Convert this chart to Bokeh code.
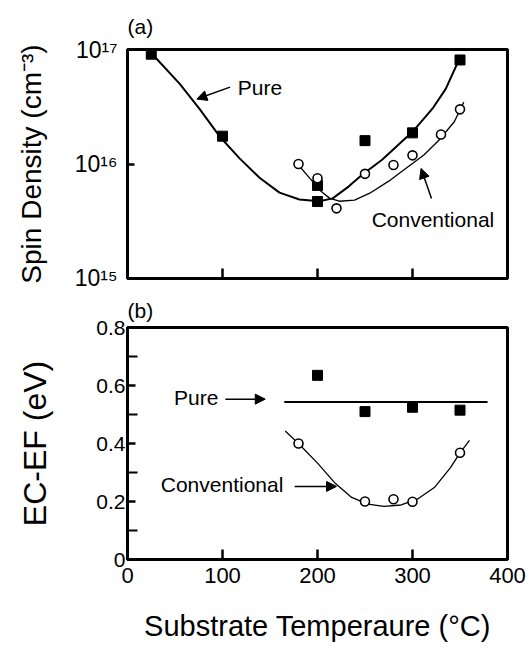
from bokeh.plotting import figure
from bokeh.layouts import column
from bokeh.models import Range1d, FixedTicker, Arrow, NormalHead, Label
from bokeh.embed import file_html
from bokeh.resources import INLINE

FONT = "Liberation Sans"

# ---------------- panel (a): spin density ----------------
pure_a_t = [25, 100, 200, 200, 250, 300, 350]
pure_a_n = [9.1e16, 1.75e16, 4.7e15, 6.5e15, 1.6e16, 1.87e16, 8.1e16]
conv_a_t = [180, 200, 220, 250, 280, 300, 330, 350]
conv_a_n = [1.0e16, 7.5e15, 4.1e15, 8.2e15, 9.8e15, 1.19e16, 1.81e16, 3.0e16]
pure_fit_a_t = [25, 55, 76, 97, 118, 139, 160, 181, 202, 216, 233, 247, 268, 300, 321, 335, 350]
pure_fit_a_n = [9.33e16, 5.01e16, 3.02e16, 1.74e16, 1.12e16, 7.59e15, 5.62e15, 4.90e15, 4.73e15,
                5.01e15, 6.38e15, 8.05e15, 1.09e16, 1.91e16, 3.04e16, 4.53e16, 8.51e16]
conv_fit_a_t = [179, 192, 204, 213, 223, 239, 255, 275, 296, 312, 328, 344, 354]
conv_fit_a_n = [1.0e16, 7.48e15, 5.75e15, 5.01e15, 4.73e15, 4.83e15, 5.56e15, 7.08e15,
                9.55e15, 1.2e16, 1.62e16, 2.34e16, 3.47e16]
a_yticks = [1e15, 1e16, 1e17]
a_ytick_labels = ["10\u00b9\u2075", "10\u00b9\u2076", "10\u00b9\u2077"]
x_ticks = [0, 100, 200, 300, 400]
x_tick_labels = ["0", "100", "200", "300", "400"]

# ---------------- panel (b): Ec - Ef ----------------
pure_b_t = [200, 250, 300, 350]
pure_b_e = [0.635, 0.51, 0.525, 0.515]
pure_line_b_t = [165, 379]
pure_line_b_e = [0.543, 0.543]
conv_b_t = [180, 250, 280, 300, 350]
conv_b_e = [0.40, 0.20, 0.208, 0.199, 0.368]
conv_fit_b_t = [166, 180, 201, 218, 236, 253, 270, 288, 305, 323, 340, 350, 360]
conv_fit_b_e = [0.443, 0.40, 0.329, 0.265, 0.214, 0.191, 0.183, 0.188, 0.208, 0.248, 0.317, 0.368, 0.411]
b_yticks = [0, 0.2, 0.4, 0.6, 0.8]
b_ytick_labels = ["0", "0.2", "0.4", "0.6", "0.8"]
b_yminor = [0.1, 0.3, 0.5, 0.7]


def style(p):
    p.outline_line_color = "black"
    p.outline_line_width = 3
    p.grid.visible = False
    p.background_fill_color = "white"
    p.border_fill_color = "white"
    for ax in p.xaxis + p.yaxis:
        ax.axis_line_width = 3
        ax.axis_line_color = "black"
        ax.major_tick_line_width = 2.5
        ax.minor_tick_line_width = 2
        ax.major_label_text_font = FONT
        ax.major_label_text_font_size = "21px"
        ax.major_label_text_color = "black"
        ax.axis_label_text_font = FONT
        ax.axis_label_text_font_size = "29px"
        ax.axis_label_text_font_style = "normal"
        ax.axis_label_text_color = "black"
    p.title.text_font = FONT
    p.title.text_font_size = "21px"
    p.title.text_font_style = "normal"
    p.title.text_color = "black"
    p.title.align = "left"


# ---- figure a ----
fa = figure(width=531, height=290, y_axis_type="log",
            x_range=Range1d(0, 400), y_range=Range1d(1e15, 1e17),
            output_backend="svg", toolbar_location=None, title="(a)",
            min_border_left=127, min_border_right=22, min_border_top=47, min_border_bottom=12)
style(fa)
fa.title.standoff = 24
fa.xaxis.ticker = FixedTicker(ticks=[100, 200, 300])
fa.xaxis.major_label_overrides = {100: "", 200: "", 300: ""}
fa.xaxis.major_tick_in = 10
fa.xaxis.major_tick_out = 0
fa.xaxis.major_label_standoff = 0
fa.yaxis.ticker = FixedTicker(ticks=a_yticks)
fa.yaxis.major_label_overrides = {v: s for v, s in zip(a_yticks, a_ytick_labels)}
fa.yaxis.major_label_text_font_size = "23px"
fa.yaxis.major_tick_in = 7
fa.yaxis.major_tick_out = 0
fa.yaxis.minor_tick_line_color = None
fa.yaxis.major_label_standoff = 10
fa.yaxis.axis_label = "Spin Density (cm\u207b\u00b3)"
fa.yaxis.axis_label_text_font_size = "28px"
fa.yaxis.axis_label_standoff = 25

fa.line(pure_fit_a_t, pure_fit_a_n, line_color="black", line_width=2)
fa.line(conv_fit_a_t, conv_fit_a_n, line_color="black", line_width=1.3)
fa.scatter(pure_a_t, pure_a_n, marker="square", size=10, color="black")
fa.scatter(conv_a_t, conv_a_n, marker="circle", size=9, fill_color="white",
           line_color="black", line_width=1.6)

fa.add_layout(Label(x=116, y=4.69e16, text="Pure", text_font=FONT, text_font_size="21px",
                    text_baseline="middle", text_color="black"))
fa.add_layout(Arrow(end=NormalHead(size=10, fill_color="black", line_color="black"),
                    x_start=108, y_start=4.69e16, x_end=73, y_end=3.69e16,
                    line_width=1.5, line_color="black"))
fa.add_layout(Label(x=257, y=3.3e15, text="Conventional", text_font=FONT, text_font_size="21px",
                    text_baseline="middle", text_color="black"))
fa.add_layout(Arrow(end=NormalHead(size=10, fill_color="black", line_color="black"),
                    x_start=320, y_start=5.0e15, x_end=309, y_end=9.15e15,
                    line_width=1.5, line_color="black"))

# ---- figure b ----
fb = figure(width=531, height=361,
            x_range=Range1d(0, 400), y_range=Range1d(0, 0.8),
            output_backend="svg", toolbar_location=None, title="(b)",
            min_border_left=125, min_border_right=24, min_border_top=36, min_border_bottom=92)
style(fb)
fb.title.standoff = 12
fb.xaxis.ticker = FixedTicker(ticks=x_ticks)
fb.xaxis.major_label_overrides = {v: s for v, s in zip(x_ticks, x_tick_labels)}
fb.xaxis.major_label_text_font_size = "22px"
fb.xaxis.major_tick_in = 10
fb.xaxis.major_tick_out = 0
fb.xaxis.major_label_standoff = 8
fb.xaxis.axis_label = "Substrate Temperaure (\u00b0C)"
fb.xaxis.axis_label_standoff = 24
fb.yaxis.ticker = FixedTicker(ticks=b_yticks, minor_ticks=b_yminor)
fb.yaxis.major_label_overrides = {v: s for v, s in zip(b_yticks, b_ytick_labels)}
fb.yaxis.major_tick_in = 8
fb.yaxis.major_tick_out = 0
fb.yaxis.minor_tick_in = 10
fb.yaxis.minor_tick_out = 0
fb.yaxis.major_label_standoff = 2
fb.yaxis.axis_label = "EC-EF (eV)"
fb.yaxis.axis_label_text_font_size = "32px"
fb.yaxis.axis_label_standoff = 40

fb.line(pure_line_b_t, pure_line_b_e, line_color="black", line_width=2)
fb.line(conv_fit_b_t, conv_fit_b_e, line_color="black", line_width=1.3)
fb.scatter(pure_b_t, pure_b_e, marker="square", size=10, color="black")
fb.scatter(conv_b_t, conv_b_e, marker="circle", size=9, fill_color="white",
           line_color="black", line_width=1.6)

fb.add_layout(Label(x=49, y=0.56, text="Pure", text_font=FONT, text_font_size="21px",
                    text_baseline="middle", text_color="black"))
fb.add_layout(Arrow(end=NormalHead(size=10, fill_color="black", line_color="black"),
                    x_start=103, y_start=0.553, x_end=145, y_end=0.553,
                    line_width=1.5, line_color="black"))
fb.add_layout(Label(x=35, y=0.258, text="Conventional", text_font=FONT, text_font_size="21px",
                    text_baseline="middle", text_color="black"))
fb.add_layout(Arrow(end=NormalHead(size=10, fill_color="black", line_color="black"),
                    x_start=176, y_start=0.252, x_end=220, y_end=0.252,
                    line_width=1.5, line_color="black"))

layout = column(fa, fb, spacing=0)
open("out.html", "w").write(file_html(layout, INLINE))
